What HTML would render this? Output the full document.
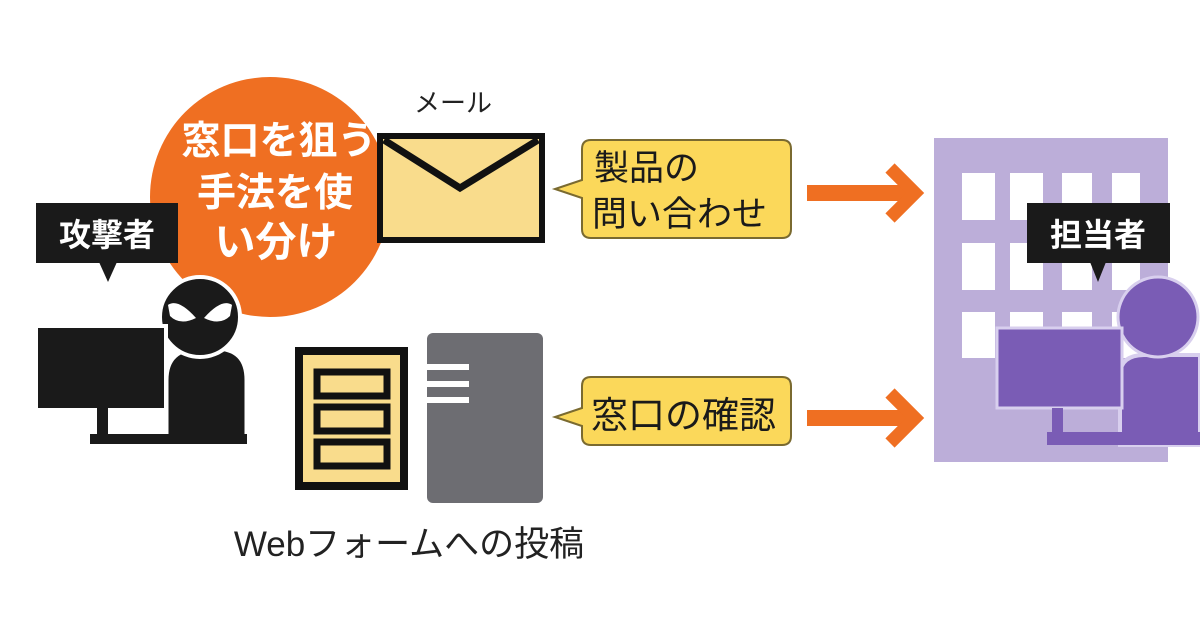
<!DOCTYPE html>
<html><head><meta charset="utf-8"><style>
html,body{margin:0;padding:0;background:#fff;}
svg{display:block;}
text{font-family:"Liberation Sans","Noto Sans CJK JP",sans-serif;}
</style></head><body>
<svg width="1200" height="630" viewBox="0 0 1200 630" xmlns="http://www.w3.org/2000/svg">
<rect width="1200" height="630" fill="#fff"/>
<!-- orange circle -->
<circle cx="270" cy="197" r="120" fill="#ef6f22"/>
<g fill="#fff" font-weight="bold" text-anchor="middle">
<text x="279" y="154" font-size="39">窓口を狙う</text>
<text x="275" y="206" font-size="39">手法を使</text>
<text x="276" y="256" font-size="41">い分け</text>
</g>
<!-- attacker label -->
<rect x="36" y="203" width="142" height="60" fill="#1a1a1a"/>
<polygon points="99,262 117,262 108,282" fill="#1a1a1a"/>
<text x="107" y="246" font-size="32" font-weight="bold" fill="#fff" text-anchor="middle">攻撃者</text>
<!-- attacker figure -->
<path d="M166,443 L166,380 Q166,348 200,348 L215,348 Q247,348 247,380 L247,443 Z" fill="#1a1a1a" stroke="#fff" stroke-width="5"/>
<circle cx="200" cy="317" r="40" fill="#1a1a1a" stroke="#fff" stroke-width="4"/>
<path d="M168,305 Q178,298 196,318 Q180,326 170,316 Z" fill="#fff"/>
<path d="M232,305 Q222,298 204,318 Q220,326 230,316 Z" fill="#fff"/>
<rect x="36" y="326" width="130" height="84" fill="#1a1a1a" stroke="#fff" stroke-width="4"/>
<rect x="97" y="408" width="11" height="29" fill="#1a1a1a"/>
<rect x="90" y="434" width="157" height="10" fill="#1a1a1a"/>
<!-- mail -->
<text x="453" y="112" font-size="26" fill="#222" text-anchor="middle">メール</text>
<rect x="380" y="136" width="162" height="104" fill="#f9dc8c" stroke="#111" stroke-width="6"/>
<polyline points="384,140 460,188 538,140" fill="none" stroke="#111" stroke-width="7"/>
<!-- web form doc -->
<rect x="299" y="351" width="105" height="135" fill="#f9dc8c" stroke="#111" stroke-width="8"/>
<rect x="317" y="372" width="70" height="24" fill="#f9dc8c" stroke="#111" stroke-width="7"/>
<rect x="317" y="407" width="70" height="24" fill="#f9dc8c" stroke="#111" stroke-width="7"/>
<rect x="317" y="442" width="70" height="24" fill="#f9dc8c" stroke="#111" stroke-width="7"/>
<!-- server -->
<rect x="427" y="333" width="116" height="170" rx="6" fill="#6d6d72"/>
<rect x="425" y="364" width="44" height="6" fill="#fff"/>
<rect x="425" y="381" width="44" height="6" fill="#fff"/>
<rect x="425" y="397" width="44" height="6" fill="#fff"/>
<text x="409" y="556" font-size="35" fill="#222" text-anchor="middle">Webフォームへの投稿</text>
<!-- callouts -->
<path d="M591,140 H782 Q791,140 791,149 V229 Q791,238 782,238 H591 Q582,238 582,229 V198 L555,189 L582,180 V149 Q582,140 591,140 Z" fill="#fbd85a" stroke="#7a6a30" stroke-width="2"/>
<text x="594" y="180" font-size="35" fill="#1a1a1a">製品の</text>
<text x="592" y="226" font-size="35" fill="#1a1a1a">問い合わせ</text>
<path d="M591,377 H782 Q791,377 791,386 V436 Q791,445 782,445 H591 Q582,445 582,436 V426 L555,417 L582,408 V386 Q582,377 591,377 Z" fill="#fbd85a" stroke="#7a6a30" stroke-width="2"/>
<text x="591" y="428" font-size="37" fill="#1a1a1a">窓口の確認</text>
<!-- arrows -->
<g stroke="#ef6f22" fill="none">
<line x1="807" y1="193" x2="910" y2="193" stroke-width="16"/>
<polyline points="890,168 915,193 890,218" stroke-width="13"/>
<line x1="807" y1="418" x2="910" y2="418" stroke-width="16"/>
<polyline points="890,393 915,418 890,443" stroke-width="13"/>
</g>
<!-- building -->
<rect x="934" y="138" width="234" height="324" fill="#bcaed9"/>
<g fill="#fff">
<rect x="962" y="173" width="33" height="47"/><rect x="1010" y="173" width="33" height="47"/><rect x="1062" y="173" width="30" height="47"/><rect x="1112" y="173" width="28" height="47"/>
<rect x="962" y="243" width="33" height="47"/><rect x="1010" y="243" width="33" height="47"/><rect x="1062" y="243" width="30" height="47"/><rect x="1112" y="243" width="28" height="47"/>
<rect x="962" y="312" width="33" height="46"/><rect x="1010" y="312" width="33" height="46"/><rect x="1062" y="312" width="30" height="46"/><rect x="1112" y="312" width="28" height="46"/>
</g>
<!-- person -->
<path d="M1120,445 L1120,375 Q1120,355 1145,355 L1200,355 L1200,445 Z" fill="#7a5cb5" stroke="#d8cfee" stroke-width="4"/>
<circle cx="1158" cy="317" r="40" fill="#7a5cb5" stroke="#d8cfee" stroke-width="3"/>
<rect x="997" y="328" width="125" height="80" fill="#7a5cb5" stroke="#d8cfee" stroke-width="3"/>
<rect x="1052" y="408" width="11" height="28" fill="#7a5cb5"/>
<rect x="1047" y="432" width="153" height="13" fill="#7a5cb5"/>
<!-- label -->
<rect x="1027" y="203" width="143" height="60" fill="#1a1a1a"/>
<polygon points="1090,262 1106,262 1098,282" fill="#1a1a1a"/>
<text x="1098" y="246" font-size="32" font-weight="bold" fill="#fff" text-anchor="middle">担当者</text>
</svg>
</body></html>
